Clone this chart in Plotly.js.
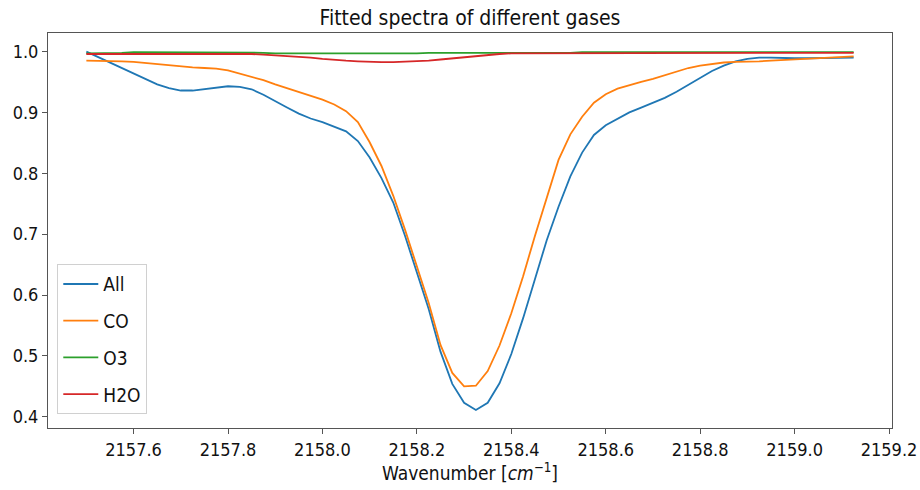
<!DOCTYPE html>
<html>
<head>
<meta charset="utf-8">
<script src="https://cdn.plot.ly/plotly-3.0.1.min.js"></script>
<style>
  html, body { margin: 0; padding: 0; background: #fff; }
  #chart { width: 920px; height: 490px; }
</style>
</head>
<body>
<div id="chart"></div>
<script>
// Wavenumber grid (cm^-1)
const wavenumber = [
  2157.500, 2157.525, 2157.550, 2157.575, 2157.600, 2157.625, 2157.650, 2157.675, 2157.700, 2157.725,
  2157.750, 2157.775, 2157.800, 2157.825, 2157.850, 2157.875, 2157.900, 2157.925, 2157.950, 2157.975,
  2158.000, 2158.025, 2158.050, 2158.075, 2158.100, 2158.125, 2158.150, 2158.175, 2158.200, 2158.225,
  2158.250, 2158.275, 2158.300, 2158.325, 2158.350, 2158.375, 2158.400, 2158.425, 2158.450, 2158.475,
  2158.500, 2158.525, 2158.550, 2158.575, 2158.600, 2158.625, 2158.650, 2158.675, 2158.700, 2158.725,
  2158.750, 2158.775, 2158.800, 2158.825, 2158.850, 2158.875, 2158.900, 2158.925, 2158.950, 2158.975,
  2159.000, 2159.025, 2159.050, 2159.075, 2159.100, 2159.125
];

const allGases = [
  1.000, 0.991, 0.982, 0.972, 0.963, 0.954, 0.946, 0.940, 0.936, 0.936,
  0.938, 0.941, 0.943, 0.942, 0.938, 0.929, 0.918, 0.908, 0.898, 0.890,
  0.884, 0.877, 0.869, 0.853, 0.826, 0.792, 0.752, 0.697, 0.638, 0.577,
  0.507, 0.454, 0.423, 0.411, 0.423, 0.455, 0.503, 0.562, 0.626, 0.690,
  0.745, 0.795, 0.834, 0.863, 0.879, 0.890, 0.900, 0.908, 0.916, 0.924,
  0.934, 0.945, 0.957, 0.968, 0.977, 0.984, 0.988, 0.990, 0.990, 0.989,
  0.989, 0.989, 0.989, 0.989, 0.990, 0.990
];

const coGas = [
  0.985, 0.985, 0.985, 0.984, 0.983, 0.981, 0.979, 0.977, 0.975, 0.974,
  0.973, 0.972, 0.969, 0.964, 0.958, 0.953, 0.946, 0.940, 0.934, 0.928,
  0.921, 0.913, 0.902, 0.884, 0.851, 0.812, 0.763, 0.707, 0.647, 0.587,
  0.518, 0.472, 0.450, 0.451, 0.475, 0.517, 0.570, 0.631, 0.697, 0.760,
  0.822, 0.864, 0.893, 0.916, 0.930, 0.939, 0.945, 0.950, 0.955, 0.961,
  0.967, 0.973, 0.977, 0.980, 0.982, 0.983, 0.983, 0.984, 0.985, 0.986,
  0.987, 0.988, 0.989, 0.990, 0.991, 0.992
];

const o3Gas = [
  0.997, 0.997, 0.998, 0.998, 0.999, 0.999, 0.999, 0.999, 0.999, 0.999,
  0.999, 0.999, 0.999, 0.999, 0.998, 0.998, 0.997, 0.997, 0.996, 0.996,
  0.996, 0.996, 0.996, 0.996, 0.996, 0.997, 0.997, 0.997, 0.997, 0.998,
  0.998, 0.998, 0.998, 0.997, 0.997, 0.997, 0.998, 0.998, 0.998, 0.998,
  0.998, 0.998, 0.999, 0.999, 0.999, 0.999, 0.999, 0.999, 0.999, 0.999,
  0.999, 0.999, 0.999, 0.999, 0.999, 0.999, 0.999, 0.999, 0.999, 0.999,
  0.999, 0.999, 0.999, 0.999, 0.999, 0.999
];

const h2oGas = [
  0.996, 0.996, 0.996, 0.996, 0.996, 0.997, 0.997, 0.997, 0.997, 0.997,
  0.997, 0.997, 0.997, 0.996, 0.996, 0.995, 0.994, 0.993, 0.992, 0.990,
  0.988, 0.986, 0.985, 0.984, 0.983, 0.9825, 0.9825, 0.983, 0.984, 0.985,
  0.987, 0.989, 0.991, 0.993, 0.995, 0.996, 0.997, 0.997, 0.997, 0.997,
  0.997, 0.997, 0.998, 0.998, 0.998, 0.998, 0.998, 0.998, 0.998, 0.998,
  0.998, 0.998, 0.998, 0.998, 0.998, 0.998, 0.998, 0.998, 0.998, 0.998,
  0.998, 0.998, 0.998, 0.998, 0.998, 0.998
];

const seriesNames = ['All', 'CO', 'O3', 'H2O'];
const seriesColors = ['#1f77b4', '#ff7f0e', '#2ca02c', '#d62728'];
const seriesValues = [allGases, coGas, o3Gas, h2oGas];

const xTicks = [2157.6, 2157.8, 2158.0, 2158.2, 2158.4, 2158.6, 2158.8, 2159.0, 2159.2];
const yTicks = [0.4, 0.5, 0.6, 0.7, 0.8, 0.9, 1.0];

const FONT = '"DejaVu Sans Condensed", "DejaVu Sans", sans-serif';

const traces = seriesNames.map((name, i) => ({
  type: 'scatter',
  mode: 'lines',
  x: wavenumber,
  y: seriesValues[i],
  name: name,
  legendgroup: name,
  line: { color: seriesColors[i], width: 1.8 }
}));

const axisCommon = {
  showgrid: false,
  zeroline: false,
  showline: true,
  linecolor: '#555',
  linewidth: 1,
  mirror: true,
  ticks: 'outside',
  ticklen: 5,
  tickwidth: 1,
  tickcolor: '#555',
  tickfont: { family: FONT, size: 18, color: '#111' },
  tickformat: '.1f'
};

const layout = {
  width: 920,
  height: 490,
  paper_bgcolor: '#ffffff',
  plot_bgcolor: '#ffffff',
  margin: { l: 48, r: 28, t: 33, b: 62 },
  title: {
    text: 'Fitted spectra of different gases',
    font: { family: FONT, size: 21, color: '#111' },
    x: 0.5, xref: 'paper', xanchor: 'center',
    y: 0.963, yref: 'container', yanchor: 'middle'
  },
  xaxis: Object.assign({}, axisCommon, {
    range: [2157.41875, 2159.20625],
    tickmode: 'array',
    tickvals: xTicks,
    title: { text: 'Wavenumber [<i>cm</i><sup>−1</sup>]', font: { family: FONT, size: 19, color: '#111' }, standoff: 7 }
  }),
  yaxis: Object.assign({}, axisCommon, {
    range: [0.3815, 1.0305],
    tickmode: 'array',
    tickvals: yTicks
  }),
  showlegend: true,
  legend: {
    x: 0.011, y: 0.035, xanchor: 'left', yanchor: 'bottom',
    bgcolor: 'rgba(255,255,255,0.8)',
    bordercolor: '#d0d0d0',
    borderwidth: 1,
    font: { family: FONT, size: 19, color: '#111' },
    tracegroupgap: 9,
    itemwidth: 35
  }
};

Plotly.newPlot('chart', traces, layout, { displayModeBar: false, staticPlot: true });
</script>
</body>
</html>
